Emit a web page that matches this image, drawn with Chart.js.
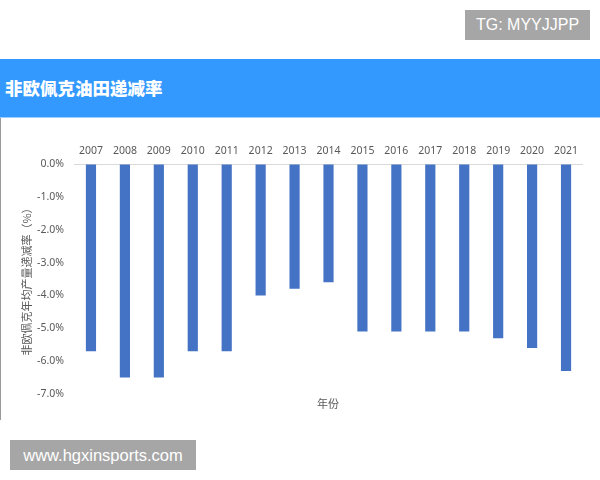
<!DOCTYPE html>
<html>
<head>
<meta charset="utf-8">
<script src="https://cdn.jsdelivr.net/npm/chart.js@4/dist/chart.umd.min.js"></script>
<style>
  html, body { margin:0; padding:0; background:#fff; width:600px; height:480px; overflow:hidden; font-family:"Noto Sans CJK SC","Noto Sans",sans-serif; }
  #wrap { position:absolute; left:0; top:0; width:600px; height:480px; }
  #header { position:absolute; left:0; top:59px; width:600px; height:58px; background:#3399FF; border-bottom:1px solid #9CCFFF; }
  #header span { position:absolute; left:5px; top:15px; color:#fff; font-weight:900; font-size:17.5px; line-height:28px; }
  #leftline { position:absolute; left:0; top:118px; width:1px; height:302px; background:#9a9a9a; }
  #tg { position:absolute; left:465px; top:10px; width:125px; height:30px; background:#A6A6A6; color:#fff; font-family:"Liberation Sans",Arial,sans-serif; font-size:16px; line-height:30px; text-align:center; }
  #www { position:absolute; left:10px; top:440px; width:186px; height:30px; background:#A6A6A6; color:#fff; font-family:"Liberation Sans",Arial,sans-serif; font-size:16.5px; line-height:30px; text-align:center; }
  #xtitle { position:absolute; left:317px; top:395px; color:#595959; font-size:11px; line-height:16px; }
  canvas { position:absolute; left:0; top:0; }
</style>
</head>
<body>
<div id="wrap">
  <canvas id="c" width="600" height="480"></canvas>
  <div id="header"><span>非欧佩克油田递减率</span></div>
  <div id="leftline"></div>
  <div id="tg">TG: MYYJJPP</div>
  <div id="www">www.hgxinsports.com</div>
  <div id="xtitle">年份</div>
</div>
<script>
const years = ["2007","2008","2009","2010","2011","2012","2013","2014","2015","2016","2017","2018","2019","2020","2021"];
const declineRate = [-5.7,-6.5,-6.5,-5.7,-5.7,-4.0,-3.8,-3.6,-5.1,-5.1,-5.1,-5.1,-5.3,-5.6,-6.3];
const yTicks = [0,-1,-2,-3,-4,-5,-6,-7];
const yTitle = "非欧佩克年均产量递减率（%）";

new Chart(document.getElementById('c'), {
  type: 'bar',
  data: {
    labels: years,
    datasets: [{
      data: declineRate,
      backgroundColor: '#4472C4',
      borderWidth: 0,
      barPercentage: 0.6,
      categoryPercentage: 0.5
    }]
  },
  options: {
    responsive: false,
    animation: false,
    layout: { padding: { left: 0, right: 17, top: 138, bottom: 86 } },
    plugins: { legend: { display: false }, tooltip: { enabled: false } },
    scales: {
      x: {
        position: 'top',
        grid: { display: false, drawTicks: false },
        border: { display: false },
        ticks: { color: '#595959', font: { size: 10.5, family: '"Noto Sans","DejaVu Sans",sans-serif' }, padding: 7, maxRotation: 0 },
        afterFit: s => { s.height = 26; }
      },
      y: {
        min: -7, max: 0,
        afterBuildTicks: s => { s.ticks = yTicks.map(v => ({ value: v })); },
        grid: { drawTicks: false, color: ctx => (ctx.tick && ctx.tick.value === 0) ? '#D9D9D9' : 'rgba(0,0,0,0)' },
        border: { display: false },
        ticks: { color: '#595959', font: { size: 10.5, family: '"Noto Sans","DejaVu Sans",sans-serif' }, padding: 10,
                 callback: v => Number(v).toFixed(1) + '%' },
        title: { display: true, text: yTitle, color: '#595959', font: { size: 11, family: '"Noto Sans CJK SC",sans-serif' }, padding: { top: 20, bottom: 0 } },
        afterFit: s => { s.width = 74; }
      }
    }
  }
});
</script>
</body>
</html>
